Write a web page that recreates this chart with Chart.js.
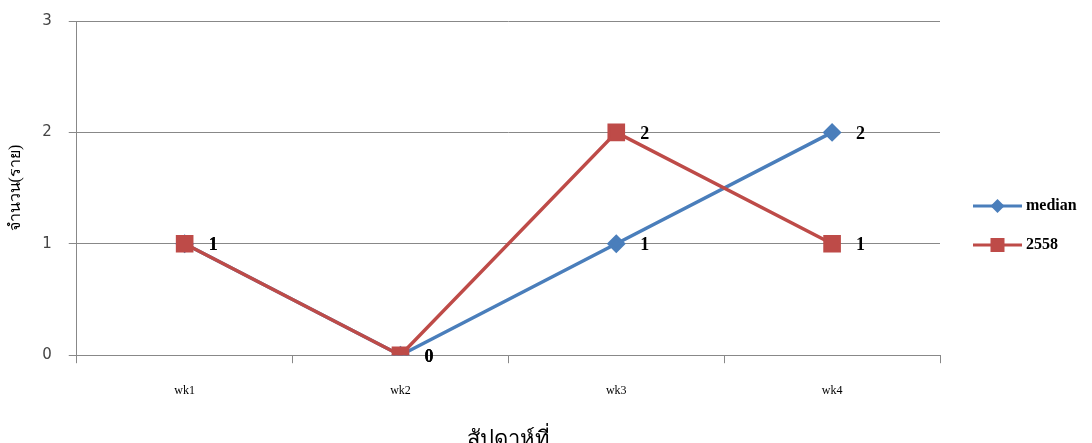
<!DOCTYPE html>
<html>
<head>
<meta charset="utf-8">
<script src="https://cdn.jsdelivr.net/npm/chart.js@4"></script>
<style>
html,body{margin:0;padding:0;background:#fff;overflow:hidden;}
#wrap{width:1092px;height:453px;}
</style>
</head>
<body>
<div id="wrap"><canvas id="c" width="1092" height="453"></canvas></div>
<script>
const categories = ['wk1', 'wk2', 'wk3', 'wk4'];
const medianValues = [1, 0, 1, 2];
const y2558Values = [1, 0, 2, 1];
const yTicks = [0, 1, 2, 3];
const seriesNames = ['median', '2558'];
const xTitle = 'สัปดาห์ที่';
const yTitle = 'จำนวน(ราย)';

const BLUE = '#4A7EBB';
const RED = '#BE4B48';

const labelPlugin = {
  id: 'pointLabels',
  afterDatasetsDraw(chart) {
    const ctx = chart.ctx;
    ctx.save();
    ctx.font = 'bold 18px "Liberation Serif", serif';
    ctx.fillStyle = '#000';
    ctx.textBaseline = 'middle';
    ctx.textAlign = 'left';
    chart.data.datasets.forEach((ds, i) => {
      const meta = chart.getDatasetMeta(i);
      meta.data.forEach((pt, j) => {
        if (ds.data[j] == null) return;
        ctx.fillText(String(ds.data[j]), pt.x + 24, pt.y + 2);
      });
    });
    ctx.restore();
  }
};

const legendPlugin = {
  id: 'sideLegend',
  afterDraw(chart) {
    const ctx = chart.ctx;
    const x0 = 973, x1 = 1022;
    const rows = [
      {name: seriesNames[0], color: BLUE, shape: 'diamond', y: 206},
      {name: seriesNames[1], color: RED, shape: 'square', y: 245}
    ];
    ctx.save();
    rows.forEach(r => {
      ctx.strokeStyle = r.color;
      ctx.lineWidth = 3;
      ctx.beginPath();
      ctx.moveTo(x0, r.y);
      ctx.lineTo(x1, r.y);
      ctx.stroke();
      const cx = (x0 + x1) / 2;
      ctx.fillStyle = r.color;
      ctx.beginPath();
      if (r.shape === 'diamond') {
        ctx.moveTo(cx, r.y - 7); ctx.lineTo(cx + 7, r.y); ctx.lineTo(cx, r.y + 7); ctx.lineTo(cx - 7, r.y);
        ctx.closePath();
      } else {
        ctx.rect(cx - 7, r.y - 7, 14, 14);
      }
      ctx.fill();
      ctx.fillStyle = '#000';
      ctx.font = 'bold 16px "Liberation Serif", serif';
      ctx.textBaseline = 'middle';
      ctx.textAlign = 'left';
      ctx.fillText(r.name, x1 + 4, r.y);
    });
    ctx.restore();
  }
};

new Chart(document.getElementById('c'), {
  type: 'line',
  data: {
    labels: categories,
    datasets: [
      {
        label: seriesNames[0],
        data: medianValues,
        borderColor: BLUE,
        backgroundColor: BLUE,
        borderWidth: 3.5,
        pointStyle: 'rectRot',
        pointRadius: 7,
        pointHoverRadius: 7,
        tension: 0,
        order: 1
      },
      {
        label: seriesNames[1],
        data: y2558Values,
        borderColor: RED,
        backgroundColor: RED,
        borderWidth: 3.5,
        pointStyle: 'rect',
        pointRadius: 10,
        pointHoverRadius: 10,
        tension: 0,
        order: 0
      }
    ]
  },
  options: {
    responsive: false,
    animation: false,
    events: [],
    layout: { autoPadding: false, padding: { top: 0, right: 152, left: 0, bottom: 0 } },
    plugins: {
      legend: { display: false },
      tooltip: { enabled: false }
    },
    scales: {
      x: {
        offset: true,
        grid: { display: true, offset: true, drawOnChartArea: false, drawTicks: true, tickLength: 8, color: '#888' },
        border: { color: '#888', width: 1 },
        ticks: { color: '#000', padding: 20, font: { family: '"Liberation Serif", serif', size: 12 } },
        title: { display: true, text: xTitle, color: '#000', padding: { top: 9, bottom: 0 }, font: { family: '"Liberation Serif", "Noto Sans", serif', size: 22 } }
      },
      y: {
        min: 0, max: 3,
        afterBuildTicks(axis) { axis.ticks = yTicks.map(v => ({ value: v })); },
        afterFit(axis) { axis.paddingTop = 21; },
        grid: { color: '#888', tickLength: 8 },
        border: { color: '#888', width: 1 },
        ticks: { color: '#444', padding: 17, font: { family: '"DejaVu Sans", sans-serif', size: 15 } },
        title: { display: true, text: yTitle, color: '#000', padding: { top: 6, bottom: 0 }, font: { family: '"Liberation Serif", "Noto Sans", serif', size: 16 } }
      }
    }
  },
  plugins: [labelPlugin, legendPlugin]
});
</script>
</body>
</html>
